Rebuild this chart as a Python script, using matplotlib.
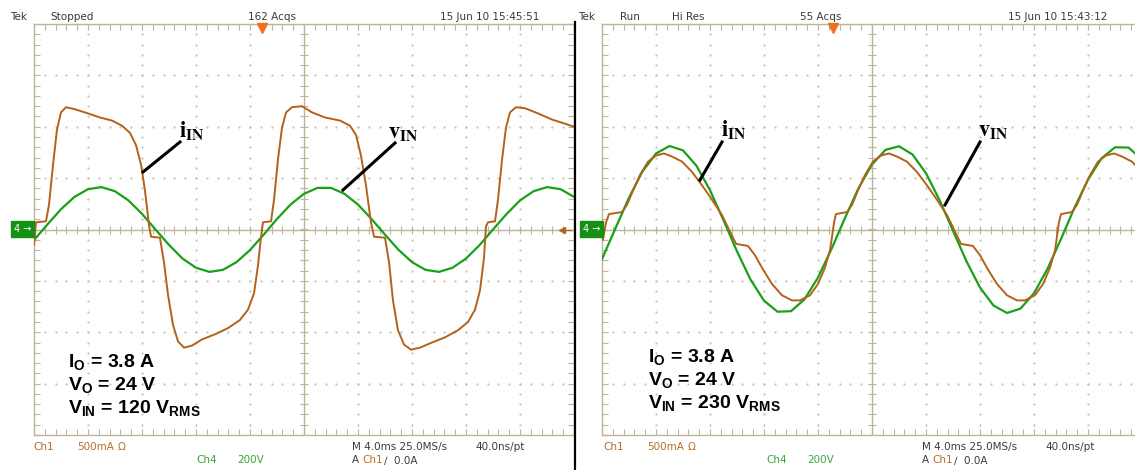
import numpy as np
import matplotlib.pyplot as plt
from matplotlib.lines import Line2D

W, H = 1135, 470
plt.rcParams['mathtext.fontset'] = 'custom'
plt.rcParams['mathtext.bf'] = 'Liberation Sans:bold'
plt.rcParams['mathtext.rm'] = 'Liberation Sans'

# scope settings: 4 ms/div, Ch1 500 mA/div, Ch4 200 V/div
MS_DIV, A_DIV, V_DIV = 4.0, 0.5, 200.0

# input voltage, sampled every 1 ms (V)
t_v = list(range(-20, 21))
v_in_120 = [-41, 20, 79, 127, 157, 165, 149, 113, 61, 0, -60, -113, -149, -165,
            -157, -127, -80, -21, 41, 97, 139, 162, 162, 139, 97, 41, -20, -79,
            -127, -157, -165, -149, -113, -61, 0, 60, 113, 149, 165, 157, 127]
v_in_230 = [-115, 5, 124, 226, 296, 325, 308, 248, 153, 36, -85, -195, -277, -320,
            -318, -272, -187, -76, 45, 161, 253, 310, 324, 292, 219, 115, -5, -124,
            -226, -296, -325, -308, -248, -153, -37, 85, 194, 277, 320, 319, 273]

# input current (A), 120 V case
t_i_120 = [-20.0, -19.85, -19.11, -18.89, -18.59, -18.30, -18.0, -17.63, -16.96, -16.0,
           -15.11, -14.22, -13.48, -12.89, -12.44, -12.07, -11.78, -11.48, -11.33, -10.67,
           -10.37, -10.07, -9.70, -9.33, -8.89, -8.30, -7.56, -6.59, -5.63, -4.74,
           -4.15, -3.70, -3.41, -3.19, -3.04, -2.44, -2.22, -1.93, -1.63, -1.33,
           -0.89, -0.15, 0.59, 1.56, 2.67, 3.41, 3.85, 4.22, 4.59, 4.96,
           5.19, 6.0, 6.30, 6.59, 6.96, 7.41, 7.93, 8.59, 9.48, 10.44,
           11.41, 12.15, 12.67, 13.04, 13.33, 13.48, 13.63, 14.15, 14.37, 14.67,
           14.96, 15.26, 15.70, 16.37, 17.33, 18.37, 19.33, 20.0]
i_in_120 = [-0.15, 0.07, 0.08, 0.24, 0.63, 0.97, 1.14, 1.19, 1.17, 1.13,
            1.09, 1.06, 1.01, 0.94, 0.82, 0.63, 0.38, 0.04, -0.07, -0.08,
            -0.32, -0.64, -0.93, -1.09, -1.15, -1.13, -1.07, -1.02, -0.96, -0.88,
            -0.78, -0.62, -0.35, -0.08, 0.07, 0.08, 0.29, 0.68, 0.99, 1.14,
            1.19, 1.20, 1.14, 1.09, 1.06, 1.01, 0.92, 0.72, 0.43, 0.07,
            -0.07, -0.08, -0.32, -0.69, -0.98, -1.12, -1.17, -1.15, -1.10, -1.05,
            -0.98, -0.90, -0.78, -0.59, -0.28, 0.03, 0.07, 0.08, 0.29, 0.68,
            0.99, 1.14, 1.19, 1.18, 1.13, 1.07, 1.03, 1.0]

# input current (A), 230 V case
t_i_230 = [-19.93, -19.70, -19.48, -18.52, -18.15, -17.70, -17.19, -16.59, -16.0, -15.41,
           -14.81, -14.07, -13.33, -12.59, -11.85, -11.11, -10.52, -10.07, -9.19, -8.67,
           -8.07, -7.41, -6.67, -5.93, -5.33, -4.59, -4.0, -3.48, -3.11, -2.96,
           -2.81, -2.67, -1.85, -1.48, -1.04, -0.52, 0.07, 0.67, 1.26, 1.85,
           2.59, 3.33, 4.07, 4.81, 5.56, 6.15, 6.59, 7.48, 8.0, 8.59,
           9.26, 10.0, 10.74, 11.33, 12.07, 12.67, 13.19, 13.56, 13.70, 13.85,
           14.0, 14.81, 15.19, 15.63, 16.15, 16.74, 17.33, 17.93, 18.52, 19.26, 20.0]
i_in_230 = [-0.10, 0.07, 0.15, 0.17, 0.24, 0.38, 0.53, 0.66, 0.72, 0.74,
            0.71, 0.66, 0.56, 0.43, 0.29, 0.14, -0.02, -0.14, -0.16, -0.25,
            -0.39, -0.53, -0.64, -0.69, -0.69, -0.64, -0.53, -0.37, -0.20, -0.07,
            0.07, 0.15, 0.17, 0.24, 0.38, 0.53, 0.66, 0.72, 0.74, 0.71,
            0.66, 0.56, 0.43, 0.29, 0.14, -0.02, -0.14, -0.16, -0.25, -0.39,
            -0.53, -0.64, -0.69, -0.69, -0.64, -0.53, -0.37, -0.20, -0.07, 0.07,
            0.15, 0.17, 0.24, 0.38, 0.53, 0.66, 0.72, 0.74, 0.71, 0.66, 0.56]

ORANGE = '#b3621c'
GREEN = '#18a018'
GRID = '#bdb59a'
DOTS = '#c9c3b0'
TXT = '#3a3a3a'


def fx(x):
    return x / W


def fy(y):
    return 1 - y / H


def screen(ax, t_i, i_vals, v_vals):
    ax.set_xlim(-5, 5)
    ax.set_ylim(-4, 4)
    for s in ax.spines.values():
        s.set_color(GRID)
        s.set_linewidth(1.0)
    ax.set_xticks(np.arange(-5, 5.01, 1))
    ax.set_yticks(np.arange(-4, 4.01, 1))
    ax.set_xticks(np.arange(-5, 5.01, 0.2), minor=True)
    ax.set_yticks(np.arange(-4, 4.01, 0.2), minor=True)
    ax.tick_params(which='both', direction='in', length=4, width=0.8, color=GRID,
                   top=True, right=True, labelbottom=False, labelleft=False)
    # dotted graticule
    fine = np.arange(-4, 4.01, 0.2)
    for gx in [-4, -3, -2, -1, 1, 2, 3, 4]:
        ax.plot(np.full_like(fine, gx), fine, ls='', marker='.', ms=1.2, color=DOTS, zorder=1)
    finex = np.arange(-5, 5.01, 0.2)
    for gy in [-3, -2, -1, 1, 2, 3]:
        ax.plot(finex, np.full_like(finex, gy), ls='', marker='.', ms=1.2, color=DOTS, zorder=1)
    # centre cross with ticks
    ax.axhline(0, color=GRID, lw=1.0, zorder=1)
    ax.axvline(0, color=GRID, lw=1.0, zorder=1)
    ax.plot(finex, np.zeros_like(finex), ls='', marker='|', ms=6, mew=0.8, color=GRID, zorder=1)
    ax.plot(np.zeros_like(fine), fine, ls='', marker='_', ms=6, mew=0.8, color=GRID, zorder=1)
    # traces
    ax.plot(np.array(t_v) / MS_DIV, np.array(v_vals) / V_DIV, color=GREEN, lw=1.6, zorder=3)
    ax.plot(np.array(t_i) / MS_DIV, np.array(i_vals) / A_DIV, color=ORANGE, lw=1.4, zorder=4)


fig = plt.figure(figsize=(W / 100, H / 100), dpi=100)
fig.patch.set_facecolor('white')

ax1 = fig.add_axes([fx(34), fy(435), 540 / W, 411 / H])
ax2 = fig.add_axes([fx(602), fy(435), 540 / W, 411 / H])
screen(ax1, t_i_120, i_in_120, v_in_120)
screen(ax2, t_i_230, i_in_230, v_in_230)

# trigger position markers
ax1.plot([-0.78], [3.93], marker='v', ms=7, color='#f07020', clip_on=False, zorder=5)
ax2.plot([-0.72], [3.93], marker='v', ms=7, color='#f07020', clip_on=False, zorder=5)
ax1.plot([4.78, 4.95], [0, 0], color=ORANGE, lw=1.0, zorder=5)
ax1.plot([4.78], [0], marker='<', ms=4, color=ORANGE, zorder=5)

# separator line between the two screenshots
fig.add_artist(Line2D([fx(574.5), fx(574.5)], [fy(22), fy(470)], color='black', lw=1.6))

# channel 4 ground markers
for x0 in (12, 581):
    fig.text(fx(x0 + 10.5), fy(229), '4 \u2192', color='white', fontsize=7,
             ha='center', va='center',
             bbox=dict(boxstyle='square,pad=0.3', fc='#149014', ec='#149014'))

# header lines
top = [(10, 'Tek'), (50, 'Stopped'), (248, '162 Acqs'), (440, '15 Jun 10 15:45:51'),
       (578, 'Tek'), (620, 'Run'), (672, 'Hi Res'), (800, '55 Acqs'), (1008, '15 Jun 10 15:43:12')]
for x0, s in top:
    fig.text(fx(x0), fy(20), s, fontsize=7.5, color=TXT, va='baseline')

# footer lines
for dx in (0, 570):
    fig.text(fx(33 + dx), fy(450), 'Ch1', fontsize=7.5, color='#b86e28', va='baseline')
    fig.text(fx(77 + dx), fy(450), '500mA', fontsize=7.5, color='#b86e28', va='baseline')
    fig.text(fx(118 + dx), fy(450), '\u03a9', fontsize=7.5, color='#b86e28', va='baseline')
    fig.text(fx(196 + dx), fy(463), 'Ch4', fontsize=7.5, color='#3aa63a', va='baseline')
    fig.text(fx(237 + dx), fy(463), '200V', fontsize=7.5, color='#3aa63a', va='baseline')
    fig.text(fx(352 + dx), fy(450), 'M 4.0ms 25.0MS/s', fontsize=7.5, color=TXT, va='baseline')
    fig.text(fx(475 + dx), fy(450), '40.0ns/pt', fontsize=7.5, color=TXT, va='baseline')
    fig.text(fx(352 + dx), fy(463), 'A', fontsize=7.5, color=TXT, va='baseline')
    fig.text(fx(362 + dx), fy(463), 'Ch1', fontsize=7.5, color='#b86e28', va='baseline')
    fig.text(fx(384 + dx), fy(463), '\u2215  0.0A', fontsize=7.5, color=TXT, va='baseline')

# annotation pointers and labels
for (x0, y0, x1, y1) in [(143, 172, 180, 142), (343, 190, 395, 143),
                         (700, 180, 722, 142), (945, 205, 980, 142)]:
    fig.add_artist(Line2D([fx(x0), fx(x1)], [fy(y0), fy(y1)], color='black', lw=2.2))
for x0, y0, s in [(179, 138, r'$\mathbf{i_{IN}}$'), (388, 139, r'$\mathbf{v_{IN}}$'),
                  (721, 137, r'$\mathbf{i_{IN}}$'), (978, 137, r'$\mathbf{v_{IN}}$')]:
    fig.text(fx(x0), fy(y0), s, fontsize=16, math_fontfamily='stix', va='baseline')

# operating point text
blocks = [(68, 368, [r'I$_\mathbf{O}$ = 3.8 A', r'V$_\mathbf{O}$ = 24 V',
                     r'V$_\mathbf{IN}$ = 120 V$_\mathbf{RMS}$']),
          (648, 363, [r'I$_\mathbf{O}$ = 3.8 A', r'V$_\mathbf{O}$ = 24 V',
                      r'V$_\mathbf{IN}$ = 230 V$_\mathbf{RMS}$'])]
for x0, y0, lines in blocks:
    for k, s in enumerate(lines):
        fig.text(fx(x0), fy(y0 + 23 * k), s, fontsize=14, fontfamily='Liberation Sans',
                 fontweight='bold', va='baseline')

fig.savefig('out.png', dpi=100)
